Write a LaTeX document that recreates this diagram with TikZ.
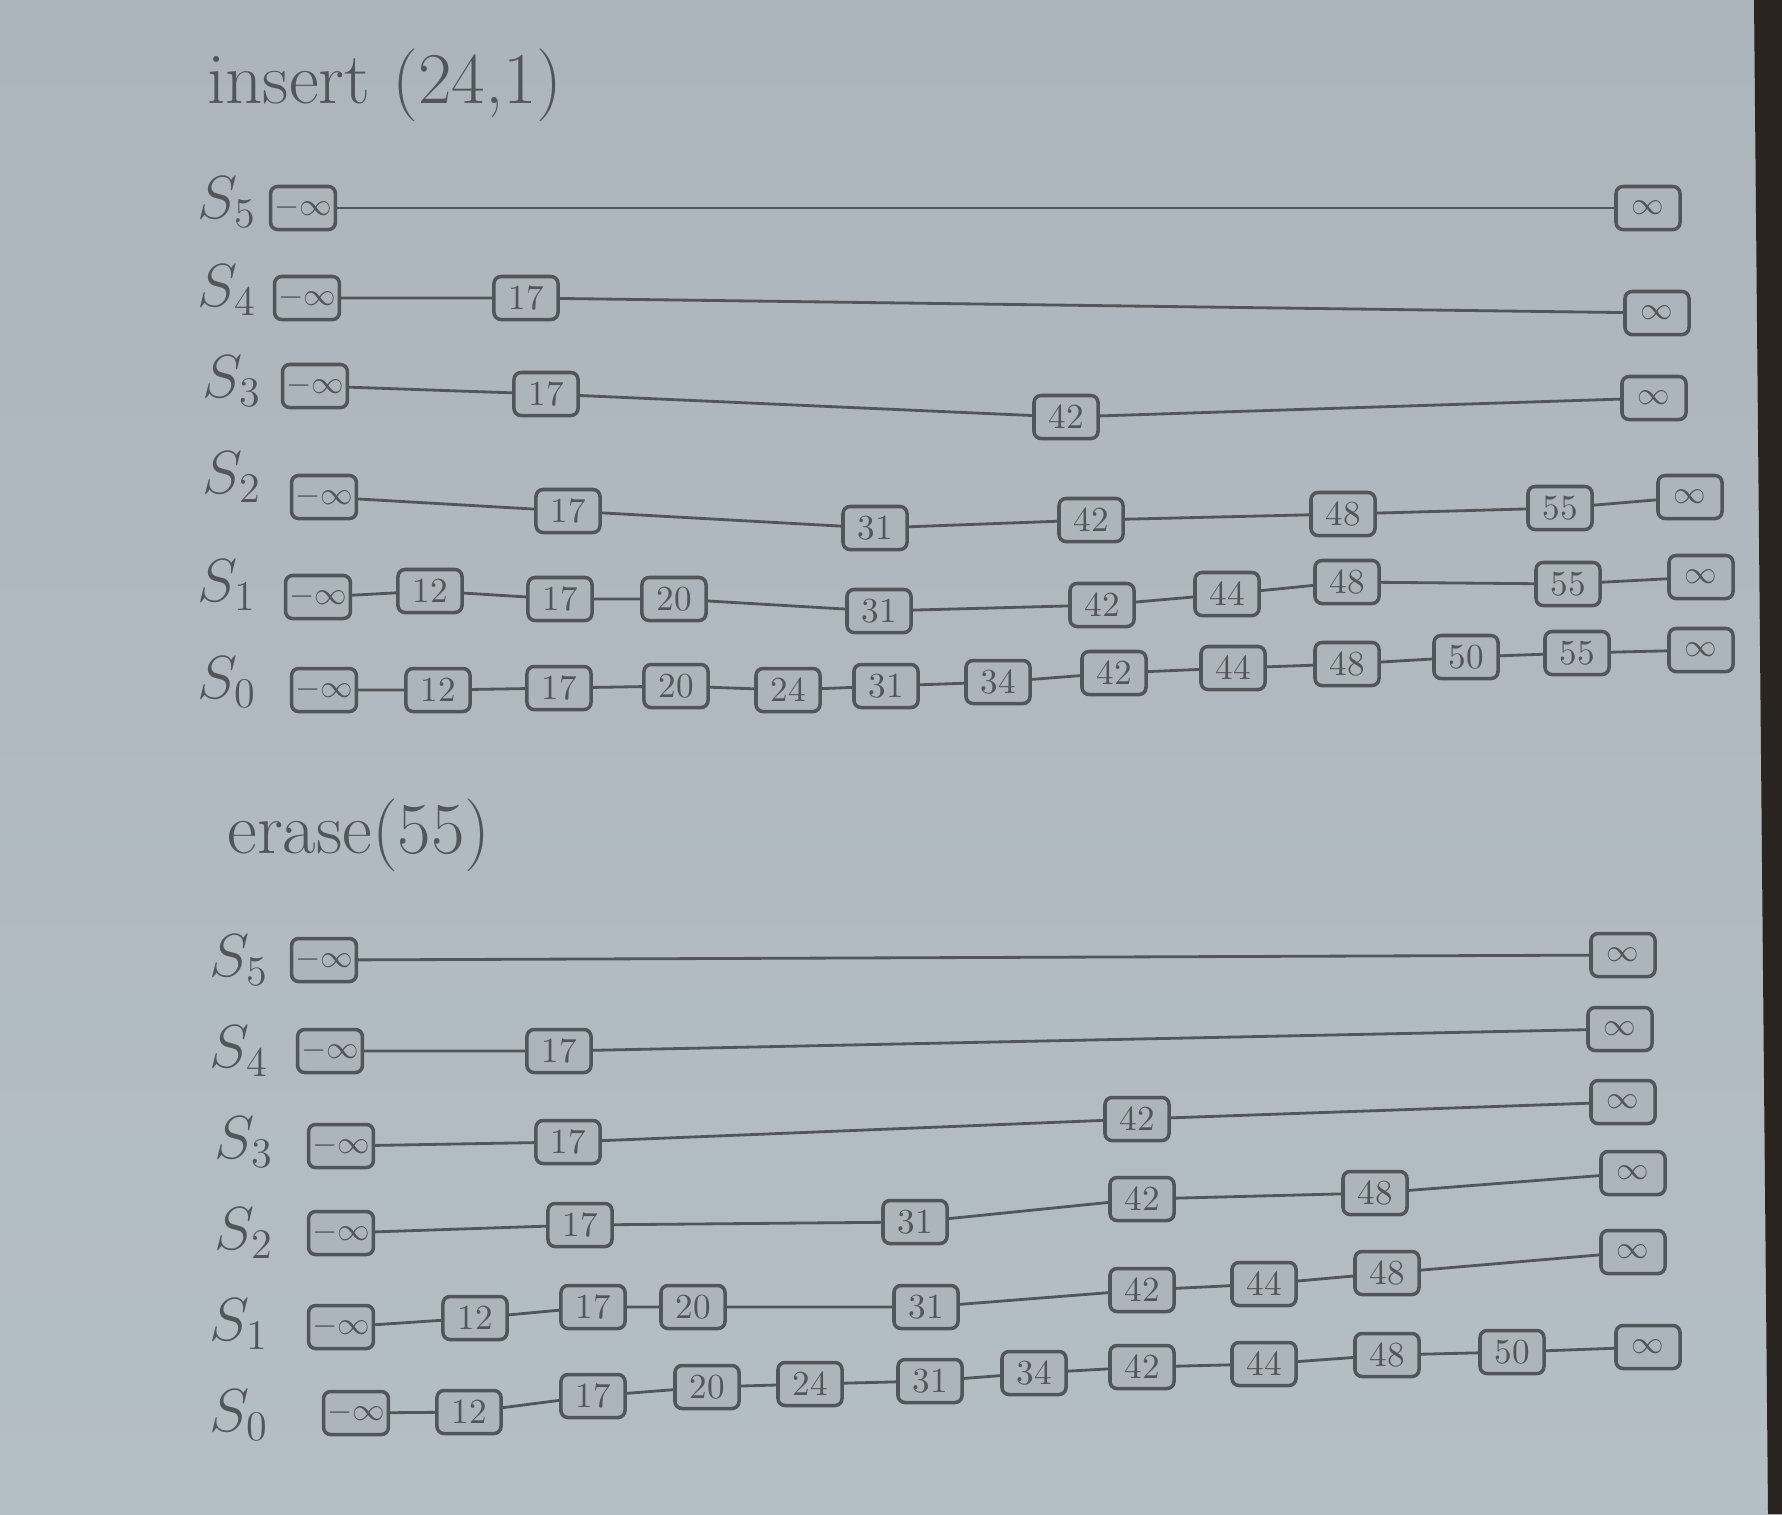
\documentclass[tikz,border=0pt]{standalone}
\definecolor{paper}{RGB}{172,181,187}
\definecolor{paperlow}{RGB}{180,190,197}
\definecolor{pencil}{RGB}{80,86,92}
\definecolor{desk}{RGB}{42,36,33}
\begin{document}
\begin{tikzpicture}[x=0.01cm,y=-0.01cm,
  key/.style={draw=pencil,text=pencil,line width=1pt,rounded corners=2pt,
    minimum width=6.4mm,minimum height=4.3mm,inner sep=1pt,fill=paper},
  endkey/.style={key,font=\small},
  level/.style={text=pencil,font=\LARGE},
  title/.style={text=pencil,font=\huge,anchor=west},
  link/.style={draw=pencil,line width=0.8pt}]
% sheet and desk
\shade[top color=paper,bottom color=paperlow] (0,0) rectangle (1782,1514);
\fill[desk] (1754,0) -- (1782,0) -- (1782,1514) -- (1768,1514) -- cycle;

% insert
\node[title] (ins) at (195,85) {insert (24,1)};

\node[level] (tl5) at (227,202) {$S_5$};
\node[level] (tl4) at (227,290) {$S_4$};
\node[level] (tl3) at (232,381) {$S_3$};
\node[level] (tl2) at (232,477) {$S_2$};
\node[level] (tl1) at (227,585) {$S_1$};
\node[level] (tl0) at (227,682) {$S_0$};

\node[endkey] (t5m) at (303,208) {$-\infty$};
\node[endkey] (t5p) at (1648,208) {$\infty$};

\node[endkey] (t4m) at (307,298) {$-\infty$};
\node[key] (t417) at (526,298) {17};
\node[endkey] (t4p) at (1657,313) {$\infty$};

\node[endkey] (t3m) at (315,386) {$-\infty$};
\node[key] (t317) at (546,394) {17};
\node[key] (t342) at (1066,417) {42};
\node[endkey] (t3p) at (1654,398) {$\infty$};

\node[endkey] (t2m) at (324,497) {$-\infty$};
\node[key] (t217) at (568,511) {17};
\node[key] (t231) at (875,528) {31};
\node[key] (t242) at (1091,520) {42};
\node[key] (t248) at (1343,514) {48};
\node[key] (t255) at (1560,508) {55};
\node[endkey] (t2p) at (1690,497) {$\infty$};

\node[endkey] (t1m) at (318,597) {$-\infty$};
\node[key] (t112) at (430,591) {12};
\node[key] (t117) at (560,599) {17};
\node[key] (t120) at (674,599) {20};
\node[key] (t131) at (879,611) {31};
\node[key] (t142) at (1102,605) {42};
\node[key] (t144) at (1227,594) {44};
\node[key] (t148) at (1347,582) {48};
\node[key] (t155) at (1568,584) {55};
\node[endkey] (t1p) at (1701,577) {$\infty$};

\node[endkey] (t0m) at (324,690) {$-\infty$};
\node[key] (t012) at (438,690) {12};
\node[key] (t017) at (559,688) {17};
\node[key] (t020) at (676,686) {20};
\node[key] (t024) at (788,690) {24};
\node[key] (t031) at (886,686) {31};
\node[key] (t034) at (998,682) {34};
\node[key] (t042) at (1114,673) {42};
\node[key] (t044) at (1233,668) {44};
\node[key] (t048) at (1347,664) {48};
\node[key] (t050) at (1466,657) {50};
\node[key] (t055) at (1577,653) {55};
\node[endkey] (t0p) at (1701,650) {$\infty$};

\draw[link] (t5m) -- (t5p);
\draw[link] (t4m) -- (t417) -- (t4p);
\draw[link] (t3m) -- (t317) -- (t342) -- (t3p);
\draw[link] (t2m) -- (t217) -- (t231) -- (t242) -- (t248) -- (t255) -- (t2p);
\draw[link] (t1m) -- (t112) -- (t117) -- (t120) -- (t131) -- (t142) -- (t144)
  -- (t148) -- (t155) -- (t1p);
\draw[link] (t0m) -- (t012) -- (t017) -- (t020) -- (t024) -- (t031) -- (t034)
  -- (t042) -- (t044) -- (t048) -- (t050) -- (t055) -- (t0p);

% erase
\node[title] (ers) at (215,835) {erase(55)};

\node[level] (bl5) at (239,960) {$S_5$};
\node[level] (bl4) at (239,1051) {$S_4$};
\node[level] (bl3) at (244,1142) {$S_3$};
\node[level] (bl2) at (244,1233) {$S_2$};
\node[level] (bl1) at (239,1324) {$S_1$};
\node[level] (bl0) at (239,1415) {$S_0$};

\node[endkey] (b5m) at (324,960) {$-\infty$};
\node[endkey] (b5p) at (1623,955) {$\infty$};

\node[endkey] (b4m) at (330,1051) {$-\infty$};
\node[key] (b417) at (559,1051) {17};
\node[endkey] (b4p) at (1620,1029) {$\infty$};

\node[endkey] (b3m) at (341,1146) {$-\infty$};
\node[key] (b317) at (568,1142) {17};
\node[key] (b342) at (1137,1119) {42};
\node[endkey] (b3p) at (1623,1102) {$\infty$};

\node[endkey] (b2m) at (341,1233) {$-\infty$};
\node[key] (b217) at (580,1225) {17};
\node[key] (b231) at (915,1222) {31};
\node[key] (b242) at (1142,1199) {42};
\node[key] (b248) at (1375,1193) {48};
\node[endkey] (b2p) at (1633,1173) {$\infty$};

\node[endkey] (b1m) at (341,1327) {$-\infty$};
\node[key] (b112) at (475,1318) {12};
\node[key] (b117) at (593,1307) {17};
\node[key] (b120) at (693,1307) {20};
\node[key] (b131) at (926,1307) {31};
\node[key] (b142) at (1142,1290) {42};
\node[key] (b144) at (1264,1284) {44};
\node[key] (b148) at (1387,1273) {48};
\node[endkey] (b1p) at (1633,1252) {$\infty$};

\node[endkey] (b0m) at (356,1413) {$-\infty$};
\node[key] (b012) at (469,1412) {12};
\node[key] (b017) at (593,1396) {17};
\node[key] (b020) at (707,1387) {20};
\node[key] (b024) at (810,1384) {24};
\node[key] (b031) at (930,1381) {31};
\node[key] (b034) at (1034,1373) {34};
\node[key] (b042) at (1142,1367) {42};
\node[key] (b044) at (1264,1364) {44};
\node[key] (b048) at (1387,1355) {48};
\node[key] (b050) at (1512,1352) {50};
\node[endkey] (b0p) at (1648,1347) {$\infty$};

\draw[link] (b5m) -- (b5p);
\draw[link] (b4m) -- (b417) -- (b4p);
\draw[link] (b3m) -- (b317) -- (b342) -- (b3p);
\draw[link] (b2m) -- (b217) -- (b231) -- (b242) -- (b248) -- (b2p);
\draw[link] (b1m) -- (b112) -- (b117) -- (b120) -- (b131) -- (b142) -- (b144)
  -- (b148) -- (b1p);
\draw[link] (b0m) -- (b012) -- (b017) -- (b020) -- (b024) -- (b031) -- (b034)
  -- (b042) -- (b044) -- (b048) -- (b050) -- (b0p);
\end{tikzpicture}
\end{document}
